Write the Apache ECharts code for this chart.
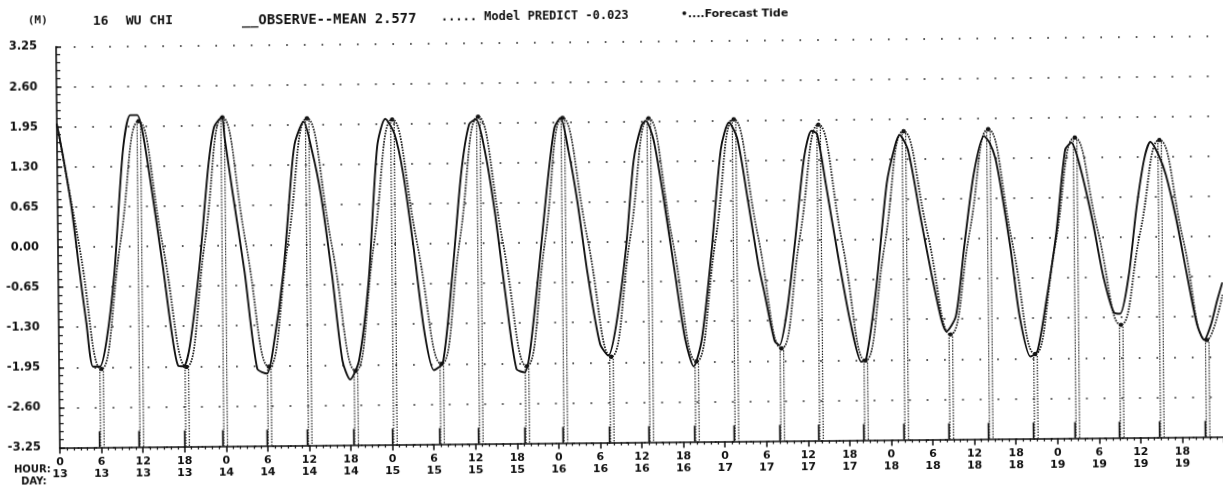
<!DOCTYPE html>
<html><head><meta charset="utf-8">
<script src="https://cdn.jsdelivr.net/npm/echarts@6/dist/echarts.min.js"></script>
<style>
html,body{margin:0;padding:0;background:#fff;overflow:hidden}
#c{width:1223px;height:495px;transform:rotate(-0.54deg);transform-origin:611px 247px;}
</style></head><body><div id="c"></div>
<script>
// ---- data (hours since day 13, 00h; values in metres) ----
const obsHours = [0.0,0.8,2.0,3.0,4.0,4.9,5.9,6.9,8.1,9.5,10.6,11.6,12.4,13.6,15.1,16.3,17.2,18.0,18.9,20.4,21.8,22.7,23.8,24.2,25.2,26.9,28.6,30.0,31.0,32.5,33.9,34.4,35.6,36.8,38.0,39.5,40.9,42.0,43.3,44.8,46.2,47.4,48.7,49.9,51.3,52.8,54.1,55.4,56.9,58.3,59.5,60.5,61.7,63.1,64.6,66.0,67.2,68.0,69.4,70.6,71.8,72.7,73.8,75.0,76.4,78.1,79.3,80.5,82.0,83.2,84.4,85.0,86.1,87.5,89.0,90.4,91.6,92.8,94.3,95.8,97.0,98.2,99.6,101.1,101.9,103.3,104.0,105.2,106.4,107.8,108.9,109.7,110.9,112.6,114.3,115.8,116.5,118.0,119.7,120.9,121.6,122.8,124.5,126.0,127.4,128.1,129.5,130.8,132.3,133.8,134.6,135.4,136.2,137.5,138.7,140.2,141.2,142.6,144.1,145.5,146.4,147.7,149.4,150.8,152.3,153.2,154.5,155.7,156.9,157.8,159.0,160.0,161.4,162.9,164.3,165.3,166.3,167.2,168.0];
const obsValues = [2.00,1.51,0.65,-0.32,-1.24,-1.94,-1.94,-1.51,-0.43,1.56,2.13,2.13,1.83,0.92,-0.32,-1.40,-1.94,-1.95,-1.62,-0.32,1.29,1.93,2.08,1.75,0.92,-0.43,-2.00,-2.08,-1.62,-0.43,1.30,1.69,2.00,1.52,0.82,-0.48,-1.88,-2.19,-1.88,-0.58,1.58,2.03,1.79,1.15,-0.04,-1.45,-2.05,-1.93,-0.48,1.15,1.93,2.01,1.52,0.50,-0.91,-2.04,-2.10,-1.75,-0.41,0.84,1.86,2.02,1.49,0.68,-0.51,-1.65,-1.84,-1.32,-0.08,1.32,1.89,1.96,1.65,0.68,-0.51,-1.59,-2.03,-1.59,-0.19,1.49,1.92,1.65,0.68,-0.41,-0.85,-1.63,-1.70,-1.09,-0.01,1.34,1.77,1.72,0.91,-0.28,-1.36,-1.98,-1.93,-0.82,0.91,1.50,1.69,1.45,0.37,-0.55,-1.31,-1.50,-1.25,-0.12,1.07,1.66,1.55,1.30,0.80,-0.19,-1.27,-1.92,-1.84,-1.00,0.08,1.43,1.54,1.11,0.24,-0.62,-1.22,-1.24,-0.62,0.46,1.27,1.54,1.32,1.00,0.30,-0.62,-1.43,-1.68,-1.43,-1.05,-0.75];

const predHours = [0.0,3.1,6.1,9.0,11.8,15.1,18.4,21.2,23.9,27.1,30.3,33.2,36.1,39.5,42.8,45.6,48.4,51.8,55.2,58.0,60.8,64.2,67.5,70.3,73.0,76.4,79.7,82.6,85.4,88.7,92.0,94.9,97.7,101.0,104.3,107.1,109.9,113.2,116.4,119.3,122.2,125.5,128.7,131.6,134.4,137.7,140.9,143.9,146.9,150.1,153.3,156.2,159.1,162.4,165.7,168.0];
const predValues = [2.00,0.00,-1.98,0.05,2.03,0.03,-1.96,0.06,2.08,0.05,-1.97,0.03,2.05,0.00,-2.05,0.00,2.02,0.03,-1.95,0.05,2.05,0.02,-2.00,0.02,2.02,0.08,-1.86,0.07,2.00,0.02,-1.95,0.01,1.97,0.10,-1.75,0.06,1.87,-0.05,-1.96,-0.10,1.75,0.10,-1.55,0.11,1.77,-0.05,-1.88,-0.13,1.62,0.10,-1.42,0.07,1.57,-0.05,-1.68,-0.95];

const fcHours = [6.1,11.8,18.4,23.9,30.3,36.1,42.8,48.4,55.2,60.8,67.5,73.0,79.7,85.4,92.0,97.7,104.3,109.9,116.4,122.2,128.7,134.4,140.9,146.9,153.3,159.1,165.7];
const fcValues = [-1.98,2.03,-1.96,2.08,-1.97,2.05,-2.05,2.02,-1.95,2.05,-2.00,2.02,-1.86,2.00,-1.95,1.97,-1.75,1.87,-1.96,1.75,-1.55,1.77,-1.88,1.62,-1.42,1.57,-1.68];

const yTickLabels = ['-3.25','-2.60','-1.95','-1.30','-0.65','0.00','0.65','1.30','1.95','2.60','3.25'];
const hourLabels = ['0','6','12','18','0','6','12','18','0','6','12','18','0','6','12','18','0','6','12','18','0','6','12','18','0','6','12','18','0'];
const dayLabels  = ['13','13','13','13','14','14','14','14','15','15','15','15','16','16','16','16','17','17','17','17','18','18','18','18','19','19','19','19','20'];

const titleTexts = ['(M)','16','WU CHI','__OBSERVE--MEAN 2.577','..... Model PREDICT -0.023','•....Forecast Tide'];

// ---- chart ----
const INK = '#111111';
const FONT = 'DejaVu Sans';
const MONO = '"DejaVu Sans Mono"';
const chart = echarts.init(document.getElementById('c'), null, {renderer:'canvas'});
const Y_MIN = -3.25, Y_MAX = 3.25;

function headText(txt, x, font){
  return {type:'text',x:x,y:10,style:{text:txt,font:font,fill:INK}};
}

const option = {
  animation:false,
  backgroundColor:'#ffffff',
  textStyle:{fontFamily:FONT},
  grid:{left:58,right:1,top:41.5,bottom:52.5},
  xAxis:{
    type:'value',min:0,max:168,interval:6,
    axisLine:{show:true,onZero:false,lineStyle:{color:INK,width:1.6}},
    axisTick:{show:true,length:6,lineStyle:{color:INK,width:1.5}},
    minorTick:{show:true,splitNumber:6,length:3,lineStyle:{color:INK,width:1.2}},
    splitLine:{show:false},
    axisLabel:{
      showMaxLabel:false,showMinLabel:true,margin:9,color:INK,fontFamily:FONT,fontSize:11,fontWeight:'bold',lineHeight:12,
      formatter:function(v){const i=Math.round(v/6);return hourLabels[i]+'\n'+dayLabels[i];}
    }
  },
  yAxis:{
    type:'value',min:Y_MIN,max:Y_MAX,interval:0.65,
    axisLine:{show:true,onZero:false,lineStyle:{color:INK,width:1.6}},
    axisTick:{show:true,inside:true,length:5,lineStyle:{color:INK,width:1.5}},
    minorTick:{show:true,splitNumber:5,length:4,lineStyle:{color:INK,width:1.2}},
    splitLine:{show:true,lineStyle:{color:'#222',width:1.7,type:[1.7,16]}},
    axisLabel:{
      margin:19,color:INK,fontFamily:FONT,fontSize:11.5,fontWeight:'bold',
      formatter:function(v){const i=Math.round((v-Y_MIN)/0.65);return yTickLabels[i];}
    }
  },
  graphic:[
    headText(titleTexts[0],30,'bold 11px '+MONO),
    headText(titleTexts[1],95,'bold 13px '+MONO),
    headText(titleTexts[2],128,'bold 13px '+MONO),
    headText(titleTexts[3],244,'bold 13.8px '+MONO),
    headText(titleTexts[4],443,'bold 12px '+MONO),
    headText(titleTexts[5],683,'bold 11px "DejaVu Sans"'),
    {type:'text',x:12,y:459,style:{text:'HOUR:',font:'bold 10px "DejaVu Sans"',fill:INK}},
    {type:'text',x:19,y:471,style:{text:'DAY:',font:'bold 10px "DejaVu Sans"',fill:INK}}
  ],
  series:[
    {
      name:'Forecast Tide',type:'custom',z:1,silent:true,
      data:fcHours.map(function(h,i){return [h,fcValues[i]];}),
      renderItem:function(params,api){
        const top=api.coord([api.value(0),api.value(1)]);
        const bot=api.coord([api.value(0),Y_MIN]);
        const ds={stroke:'#1c1c1c',lineWidth:1.2,lineDash:[1.5,1.3]};
        return {type:'group',children:[
          {type:'line',shape:{x1:top[0]-1.5,y1:top[1],x2:bot[0]-1.5,y2:bot[1]},style:ds},
          {type:'line',shape:{x1:top[0]+2,y1:top[1]+2,x2:bot[0]+2,y2:bot[1]},style:ds},
          {type:'line',shape:{x1:bot[0]-2.5,y1:bot[1],x2:bot[0]-2.5,y2:bot[1]-16},style:{stroke:INK,lineWidth:1.6}},
          {type:'circle',shape:{cx:top[0],cy:top[1],r:2.2},style:{fill:INK}}
        ]};
      }
    },
    {
      name:'Model PREDICT',type:'line',z:2,showSymbol:false,smooth:0.5,
      data:predHours.map(function(h,i){return [h,predValues[i]];}),
      lineStyle:{color:'#1e1e1e',width:1.8,type:[1.6,1.2]}
    },
    {
      name:'OBSERVE',type:'line',z:3,showSymbol:false,smooth:0.25,
      data:obsHours.map(function(h,i){return [h,obsValues[i]];}),
      lineStyle:{color:INK,width:1.9}
    }
  ]
};
chart.setOption(option);
</script></body></html>
